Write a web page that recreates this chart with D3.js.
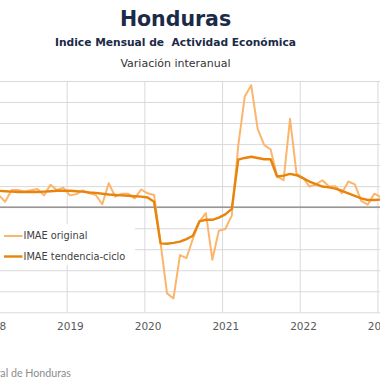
<!DOCTYPE html>
<html><head><meta charset="utf-8">
<script src="https://cdn.jsdelivr.net/npm/d3@7"></script>
<style>
html,body{margin:0;padding:0;background:#fff;overflow:hidden;}
svg{display:block;}
</style></head>
<body>
<svg id="chart" width="380" height="380"></svg>
<script>
// ---- data ----
const startYear = 2018;
const yearLabels = ["2018", "2019", "2020", "2021", "2022", "2023"];
const original = [
  3.5, 2.9, 1.3, 4.1, 4.1, 3.7, 4.0, 4.3, 2.8, 5.3, 4.1, 4.6,
  2.8, 3.1, 4.0, 3.3, 2.9, 0.7, 5.7, 2.5, 3.2, 3.2, 2.1, 4.2,
  3.3, 2.9, -8.5, -20.5, -21.7, -11.4, -12.1, -7.5, -3.4, -1.4, -12.5, -5.6,
  -5.2, -2.0, 14.6, 26.3, 29.0, 18.6, 14.8, 13.7, 7.4, 6.4, 21.0, 8.0,
  7.0, 4.9, 5.4, 6.4, 4.9, 5.0, 3.3, 6.1, 5.4, 1.5, 0.6, 3.2,
  2.4
];
const trend = [
  3.9, 3.9, 3.8, 3.7, 3.6, 3.6, 3.6, 3.6, 3.7, 3.8, 3.9, 3.9,
  3.9, 3.8, 3.7, 3.5, 3.4, 3.2, 3.0, 2.9, 2.8, 2.7, 2.6, 2.5,
  2.3, 1.3, -8.6, -8.7, -8.5, -8.2, -7.6, -6.8, -3.4, -3.0, -3.0, -2.5,
  -1.7, -0.4, 11.3, 11.7, 12.0, 11.7, 11.4, 11.4, 7.3, 7.5, 7.9, 7.6,
  6.9, 6.1, 5.5, 4.9, 4.7, 4.4, 3.9, 3.3, 2.7, 2.1, 1.7, 1.7,
  1.8
];
const yTicks = [-25, -20, -15, -10, -5, 0, 5, 10, 15, 20, 25, 30];
const seriesNames = ["IMAE original", "IMAE tendencia-ciclo"];

// ---- layout ----
const svg = d3.select("#chart");
const x = d3.scaleLinear().domain([0, 60]).range([-7.8, 380.7]);
const y = d3.scaleLinear().domain([-25, 30]).range([312.3, 81]);
const colOrig = "#fbb56c";
const colTrend = "#e8830c";
const gridCol = "#d9d9d9";
const font = "'DejaVu Sans', sans-serif";

// horizontal gridlines
svg.append("g")
  .call(d3.axisLeft(y).tickValues(yTicks).tickSize(-400).tickFormat(""))
  .call(g => g.select(".domain").remove())
  .call(g => g.selectAll("line").attr("stroke", gridCol).attr("stroke-width", 1)
    .attr("transform", "translate(-10,0)"));

// vertical gridlines at year boundaries
const yearBounds = yearLabels.map((d, i) => i * 12 - 0.5);
svg.append("g")
  .attr("transform", "translate(0,312.3)")
  .call(d3.axisBottom(x).tickValues(yearBounds).tickSize(-(312.3 - 81)).tickFormat(""))
  .call(g => g.select(".domain").remove())
  .call(g => g.selectAll("line").attr("stroke", gridCol).attr("stroke-width", 1));

// zero line
svg.append("line")
  .attr("x1", 0).attr("x2", 380)
  .attr("y1", y(0)).attr("y2", y(0))
  .attr("stroke", "#7f7f7f").attr("stroke-width", 1.2);

// legend background (covers gridlines)
svg.append("rect").attr("x", -2).attr("y", 224).attr("width", 137).attr("height", 41).attr("fill", "#fff");

// lines
const line = d3.line().x((d, i) => x(i)).y(d => y(d));
svg.append("path").datum(original).attr("d", line)
  .attr("fill", "none").attr("stroke", colOrig).attr("stroke-width", 2).attr("stroke-linejoin", "round");
svg.append("path").datum(trend).attr("d", line)
  .attr("fill", "none").attr("stroke", colTrend).attr("stroke-width", 2.4).attr("stroke-linejoin", "round");

// x-axis labels
svg.append("g")
  .attr("transform", "translate(0,312.3)")
  .call(d3.axisBottom(x).tickValues(yearLabels.map((d, i) => i * 12)).tickSize(0).tickPadding(10)
    .tickFormat((d, i) => yearLabels[i]))
  .call(g => g.select(".domain").remove())
  .call(g => g.selectAll("text").attr("fill", "#595959").style("font-size", "10.5px")
    .style("font-family", font));

// legend
const lg = svg.append("g");
[colOrig, colTrend].forEach((c, i) => {
  const yy = 236 + i * 20.5;
  lg.append("line").attr("x1", 4).attr("x2", 22.5).attr("y1", yy).attr("y2", yy)
    .attr("stroke", c).attr("stroke-width", i ? 2.4 : 2);
  lg.append("text").attr("x", 23.5).attr("y", yy).attr("dy", "0.35em")
    .attr("fill", "#404040").style("font-size", "9.8px")
    .style("font-family", font).text(seriesNames[i]);
});

// titles
svg.append("text").attr("x", 175.5).attr("y", 25.5).attr("text-anchor", "middle")
  .attr("fill", "#1b2a47").style("font-size", "20.5px").style("font-weight", "bold")
  .style("font-family", font).text("Honduras");
svg.append("text").attr("x", 175.5).attr("y", 46).attr("text-anchor", "middle")
  .attr("fill", "#1b2a47").style("font-size", "10.7px").style("font-weight", "bold")
  .style("font-family", font).style("white-space", "pre")
  .text("Indice Mensual de  Actividad Económica");
svg.append("text").attr("x", 175.5).attr("y", 67).attr("text-anchor", "middle")
  .attr("fill", "#333").style("font-size", "11px")
  .style("font-family", font).text("Variación interanual");

// source
svg.append("text").attr("x", 71).attr("y", 377).attr("text-anchor", "end")
  .attr("fill", "#8c8c8c").style("font-size", "10.7px")
  .style("font-family", "Lato, sans-serif").text("Fuente: Banco Central de Honduras");
</script>
</body></html>
